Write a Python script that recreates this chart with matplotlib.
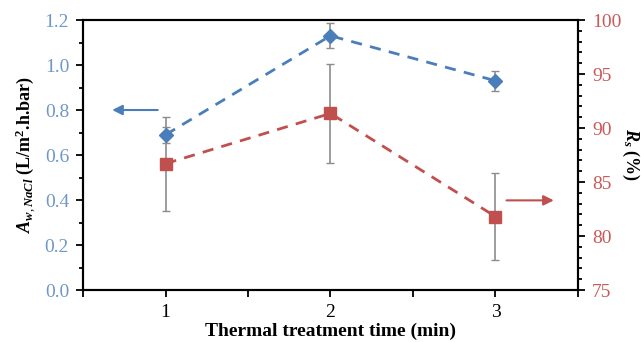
import matplotlib
matplotlib.use('Agg')
import matplotlib.pyplot as plt
from matplotlib.ticker import MultipleLocator

plt.rcParams['font.family'] = ['Liberation Serif', 'DejaVu Serif']
plt.rcParams['mathtext.fontset'] = 'custom'
plt.rcParams['mathtext.rm'] = 'Liberation Serif'
plt.rcParams['mathtext.it'] = 'Liberation Serif:italic:bold'
plt.rcParams['mathtext.bf'] = 'Liberation Serif:bold'

# data
time_min = [1, 2, 3]
aw = [0.69, 1.13, 0.93]
aw_err = [0.035, 0.055, 0.045]
rs = [86.7, 91.35, 81.8]
rs_err = [4.35, 4.6, 4.05]

blue = '#4a7ebb'
red = '#c0504d'
blue_lbl = '#6f97c9'
red_lbl = '#c85a57'
grey = '#8c8c8c'

fig = plt.figure(figsize=(6.41, 3.42), dpi=100)
ax = fig.add_axes([0.1295, 0.152, 0.7722, 0.7895])
ax2 = ax.twinx()

ax2.errorbar(time_min, rs, yerr=rs_err, color=red, ls=(0, (4, 3)), lw=2,
             marker='s', markersize=8, ecolor=grey, elinewidth=1.2, capsize=3, zorder=2)
ax.errorbar(time_min, aw, yerr=aw_err, color=blue, ls=(0, (4, 3)), lw=2,
            marker='D', markersize=7, ecolor=grey, elinewidth=1.2, capsize=3, zorder=3)

ax.set_zorder(ax2.get_zorder() + 1)
ax.patch.set_visible(False)

ax.set_xlim(0.5, 3.5)
ax.set_ylim(0, 1.2)
ax2.set_ylim(75, 100)

ax.set_xticks([0.5, 1, 1.5, 2, 2.5, 3, 3.5])
ax.set_xticklabels(['', '1', '', '2', '', '3', ''])
ax.yaxis.set_minor_locator(MultipleLocator(0.1))
ax.set_yticks([0.0, 0.2, 0.4, 0.6, 0.8, 1.0, 1.2])
ax.set_yticklabels(['0.0', '0.2', '0.4', '0.6', '0.8', '1.0', '1.2'])
ax2.yaxis.set_major_locator(MultipleLocator(5))
ax2.yaxis.set_minor_locator(MultipleLocator(1))

ax.tick_params(axis='x', direction='out', length=5, width=1.3, labelsize=14, pad=5)
ax.tick_params(axis='y', which='major', direction='out', length=5, width=1.3,
               labelsize=14, labelcolor=blue_lbl, pad=5)
ax.tick_params(axis='y', which='minor', direction='out', length=3, width=1.3)
ax2.tick_params(axis='y', which='major', direction='out', length=5, width=1.3,
                labelsize=14, labelcolor=red_lbl, pad=5)
ax2.tick_params(axis='y', which='minor', direction='out', length=3, width=1.3)

for a in (ax, ax2):
    for s in a.spines.values():
        s.set_linewidth(1.5)

ax.set_xlabel('Thermal treatment time (min)', fontsize=14, fontweight='bold', labelpad=1)
ax.set_ylabel(r'$A_{w,NaCl}$ (L/m$^\mathbf{2}$.h.bar)', fontsize=13, fontweight='bold', labelpad=5)
ax2.set_ylabel(r'$R_s$ (%)', fontsize=13, fontweight='bold', rotation=270, labelpad=14)

# pointer arrows
ax.annotate('', xy=(0.66, 0.8), xytext=(0.97, 0.8),
            arrowprops=dict(arrowstyle='-|>', color=blue, lw=1.5, mutation_scale=15))
ax2.annotate('', xy=(3.37, 83.3), xytext=(3.05, 83.3),
             arrowprops=dict(arrowstyle='-|>', color=red, lw=1.5, mutation_scale=15))

fig.savefig('out.png', dpi=100)
plt.close()
